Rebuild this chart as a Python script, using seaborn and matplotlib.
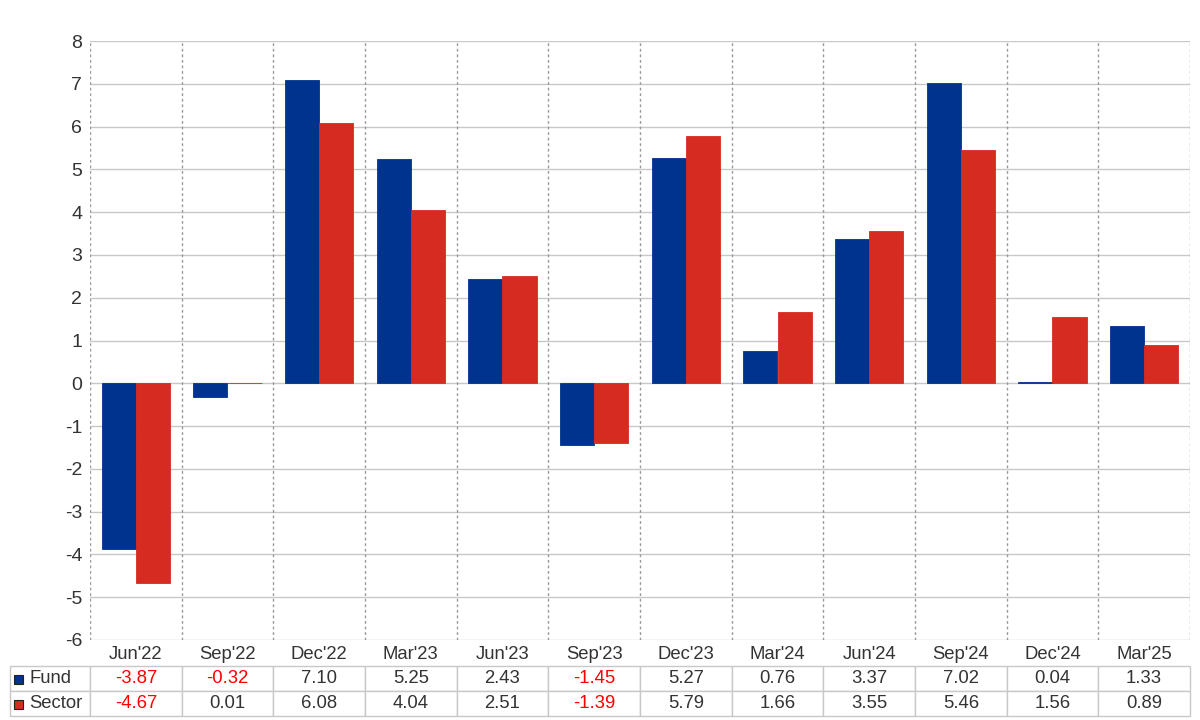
import pandas as pd
import numpy as np
import seaborn as sns
import matplotlib.pyplot as plt
from matplotlib.patches import Rectangle

# quarterly returns, fund vs sector
quarters = ["Jun'22", "Sep'22", "Dec'22", "Mar'23", "Jun'23", "Sep'23",
            "Dec'23", "Mar'24", "Jun'24", "Sep'24", "Dec'24", "Mar'25"]
fund = [-3.87, -0.32, 7.10, 5.25, 2.43, -1.45, 5.27, 0.76, 3.37, 7.02, 0.04, 1.33]
sector = [-4.67, 0.01, 6.08, 4.04, 2.51, -1.39, 5.79, 1.66, 3.55, 5.46, 1.56, 0.89]
series_names = ["Fund", "Sector"]
colors = ["#00338D", "#D62B20"]

df = pd.DataFrame({
    "Quarter": quarters * 2,
    "Series": ["Fund"] * len(quarters) + ["Sector"] * len(quarters),
    "Value": fund + sector,
})

sns.set_style("white")
plt.rcParams["font.family"] = ["Liberation Sans", "DejaVu Sans"]
plt.rcParams["axes.unicode_minus"] = False
text_col = "#333333"
grid_col = "#c8c8c8"

fig = plt.figure(figsize=(12, 7.2), dpi=100)
ax = fig.add_axes([90 / 1200, 80 / 720, 1100 / 1200, 599 / 720])

sns.barplot(data=df, x="Quarter", y="Value", hue="Series", order=quarters,
            hue_order=series_names, palette=colors, width=0.742, gap=0,
            saturation=1, legend=False, ax=ax, zorder=3)
# edge in bar colour so tiny values still show as a thin line
for p in ax.patches:
    p.set_edgecolor(p.get_facecolor())
    p.set_linewidth(0.6)

n = len(quarters)
ax.set_xlim(-0.5, n - 0.5)
ax.set_ylim(-6, 8)
ax.set_yticks(range(-6, 9))
ax.yaxis.grid(True, color=grid_col, linewidth=1, zorder=0)
for b in np.arange(n + 1) - 0.5:
    ax.axvline(b, color="#999999", linewidth=1, linestyle=(0, (2, 2)), zorder=1)
for s in ax.spines.values():
    s.set_visible(False)
ax.set_xlabel("")
ax.set_ylabel("")

ax.tick_params(axis="y", length=0, pad=5.5, labelsize=14, labelcolor=text_col)
ax.tick_params(axis="x", which="major", length=0, pad=4, labelsize=13.3, labelcolor=text_col)
ax.set_xticks(np.arange(n + 1) - 0.5, minor=True)
ax.tick_params(axis="x", which="minor", length=19, width=1, color=grid_col)

# data table under the chart
rows = [[series_names[0]] + [f"{v:.2f}" for v in fund],
        [series_names[1]] + [f"{v:.2f}" for v in sector]]
col_w = [80 / 1100] + [1 / n] * n
tab = ax.table(cellText=rows, cellLoc="center", colWidths=col_w,
               bbox=[-80 / 1100, -76 / 599, 1180 / 1100, 50 / 599])
tab.auto_set_font_size(False)
tab.set_fontsize(13.3)
vals = [fund, sector]
for (r, c), cell in tab.get_celld().items():
    cell.set_edgecolor(grid_col)
    cell.set_linewidth(1)
    cell.get_text().set_color(text_col)
    if c == 0:
        cell.get_text().set_ha("left")
        cell.PAD = 0.24
    elif vals[r][c - 1] < 0:
        cell.get_text().set_color("#FF0000")

# legend squares in the table row headers
for i, col in enumerate(colors):
    yc = 679 + 25 * i
    fig.add_artist(Rectangle((14 / 1200, (720 - yc - 4.5) / 720), 9 / 1200, 9 / 720,
                             transform=fig.transFigure, facecolor=col,
                             edgecolor="#222222", linewidth=0.8))

fig.savefig("out.png", dpi=100)
